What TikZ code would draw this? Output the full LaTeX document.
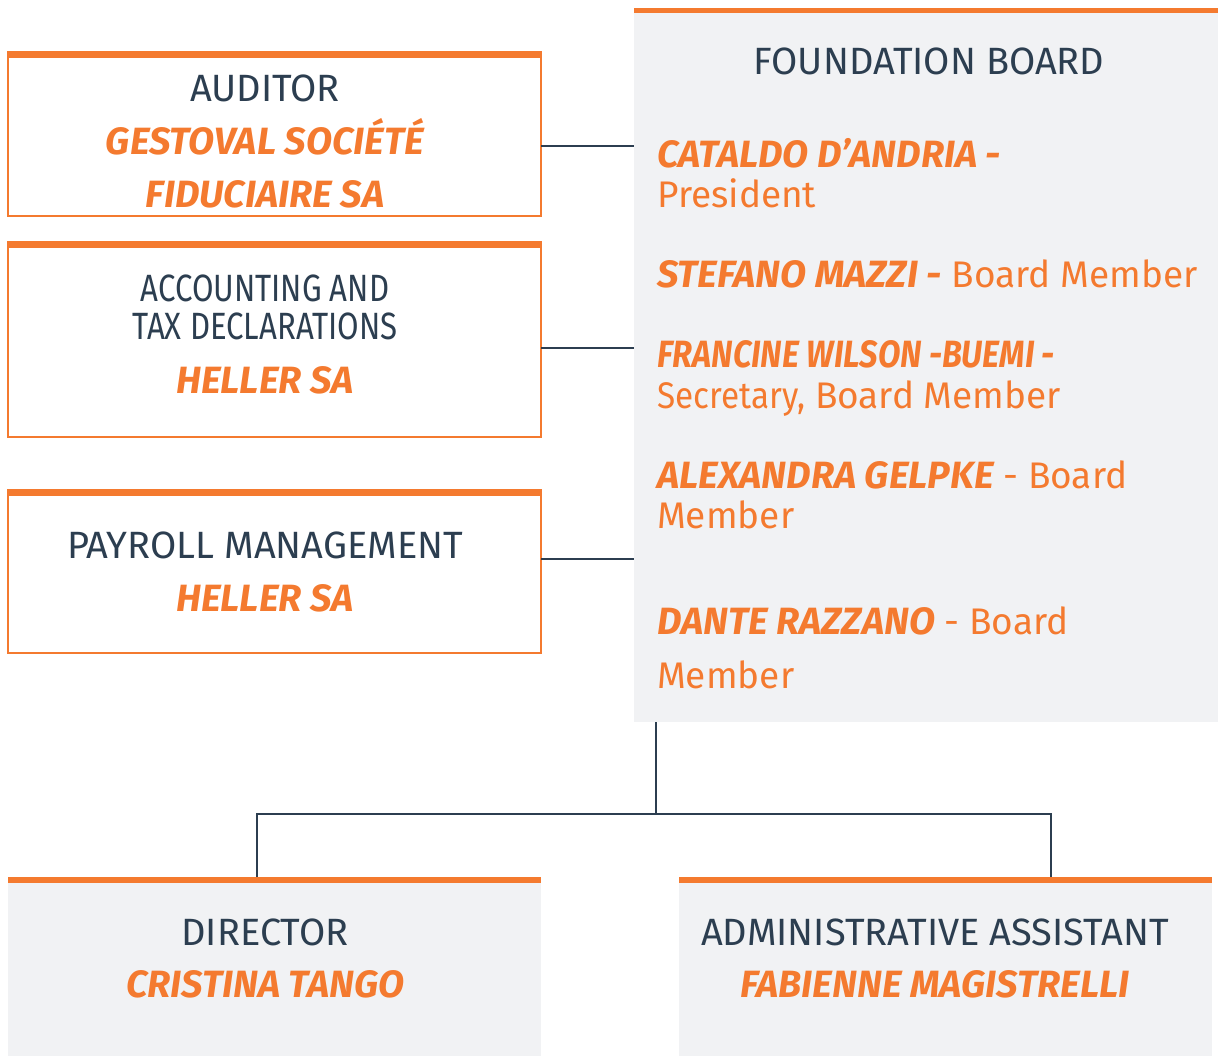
\documentclass[tikz,border=0pt]{standalone}
\usepackage{fontspec}
\setmainfont{Fira Sans}
\definecolor{org}{HTML}{F47A2F}
\definecolor{navy}{HTML}{2C3E50}
\definecolor{pale}{HTML}{F1F2F4}
\newcommand{\bnm}[1]{{\fontsize{38}{44}\selectfont\bfseries\itshape #1}}
\begin{document}
\begin{tikzpicture}[x=1pt,y=-1pt,
  boxw/.style={draw=org, line width=2pt, fill=white, minimum width=533pt, inner sep=0pt, outer sep=0pt},
  boxg/.style={fill=pale, inner sep=0pt, outer sep=0pt},
  ttl/.style={text=navy, font=\fontsize{38}{44}\selectfont, anchor=base, inner sep=0pt},
  nm/.style={text=org, font=\fontsize{38}{44}\selectfont\bfseries\itshape, anchor=base, inner sep=0pt},
  role/.style={text=org, font=\fontsize{37}{40}\selectfont, anchor=base west, inner sep=0pt},
  conn/.style={draw=navy, line width=2.5pt}]
\useasboundingbox (0,0) rectangle (1218,1056);
% boxes
\node[boxw, minimum height=164pt] (aud) at (274.5,134) {};
\fill[org] (aud.north west) rectangle ([yshift=-6pt]aud.north east);
\node[boxw, minimum height=195pt] (acc) at (274.5,339.5) {};
\fill[org] (acc.north west) rectangle ([yshift=-6pt]acc.north east);
\node[boxw, minimum height=163pt] (pay) at (274.5,571.5) {};
\fill[org] (pay.north west) rectangle ([yshift=-6pt]pay.north east);
\node[boxg, minimum width=584pt, minimum height=714pt] (board) at (926,365) {};
\fill[org] (board.north west) rectangle ([yshift=-5pt]board.north east);
\node[boxg, minimum width=533pt, minimum height=179pt] (dir) at (274.5,966.5) {};
\fill[org] (dir.north west) rectangle ([yshift=-6pt]dir.north east);
\node[boxg, minimum width=533pt, minimum height=179pt] (adm) at (945.5,966.5) {};
\fill[org] (adm.north west) rectangle ([yshift=-6pt]adm.north east);
% connectors
\draw[conn] ([yshift=-12pt]aud.east) -- ([yshift=-12pt]aud.east -| board.west);
\draw[conn] ([yshift=-8.5pt]acc.east) -- ([yshift=-8.5pt]acc.east -| board.west);
\draw[conn] ([yshift=12.5pt]pay.east) -- ([yshift=12.5pt]pay.east -| board.west);
\coordinate (junc) at (656,814);
\draw[conn] ([xshift=22pt]board.south west) -- (junc);
\draw[conn] ([xshift=-17.5pt]dir.north) |- (junc) -| ([xshift=105.5pt]adm.north);
% left texts
\node[ttl] (t1) at (265,102) {AUDITOR};
\node[nm] (n1a) at (265,155) {GESTOVAL SOCIÉTÉ};
\node[nm] (n1b) at (265,208) {FIDUCIAIRE SA};
\node[ttl] (t2a) at (265,302) {\scalebox{0.82}[1]{ACCOUNTING AND}};
\node[ttl] (t2b) at (265,340) {\scalebox{0.82}[1]{TAX DECLARATIONS}};
\node[nm] (n2) at (265,393) {HELLER SA};
\node[ttl] (t3) at (265,558) {PAYROLL MANAGEMENT};
\node[nm] (n3) at (265,611) {HELLER SA};
% board
\node[ttl] (tb) at (929,75) {FOUNDATION BOARD};
\node[role] (b1) at (657,168) {\bnm{CATALDO D’ANDRIA -}};
\node[role] (b1r) at (657,208) {President};
\node[role] (b2) at (657,288) {\bnm{STEFANO MAZZI -} Board Member};
\node[role] (b3) at (657,368) {\scalebox{0.86}[1]{\bnm{FRANCINE WILSON -BUEMI -}}};
\node[role] (b3r) at (657,408) {\scalebox{0.9}[1]{Secretary,} Board Member};
\node[role] (b4) at (657,488) {\bnm{ALEXANDRA GELPKE} - Board};
\node[role] (b4r) at (657,528) {Member};
\node[role] (b5) at (657,634) {\bnm{DANTE RAZZANO} - Board};
\node[role] (b5r) at (657,688) {Member};
% bottom
\node[ttl] (t4) at (265,945) {DIRECTOR};
\node[nm] (n4) at (265,997) {CRISTINA TANGO};
\node[ttl] (t5) at (935,945) {ADMINISTRATIVE ASSISTANT};
\node[nm] (n5) at (935,997) {FABIENNE MAGISTRELLI};
\end{tikzpicture}
\end{document}
